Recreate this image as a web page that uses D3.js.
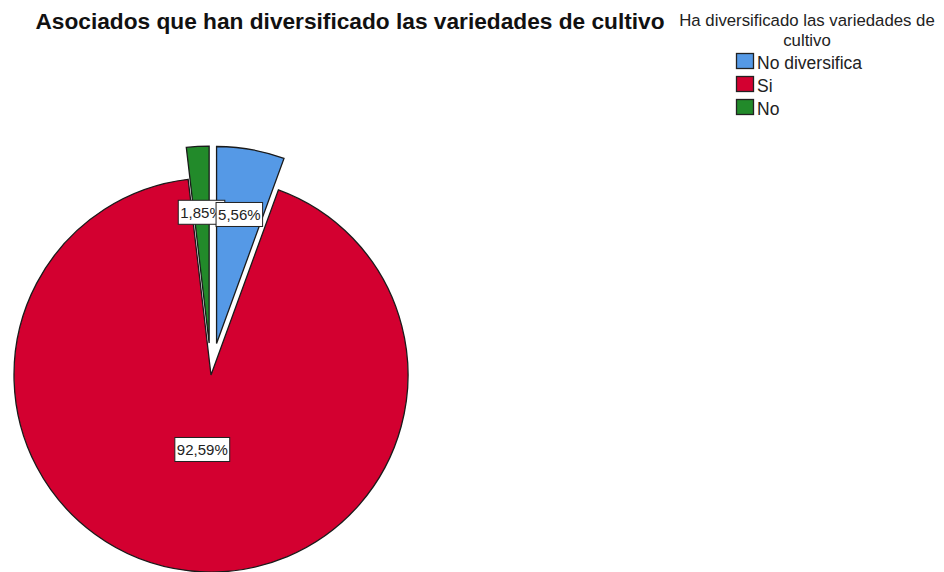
<!DOCTYPE html>
<html><head><meta charset="utf-8">
<script src="https://cdn.jsdelivr.net/npm/d3@7"></script>
<style>body{margin:0;background:#fff}svg{display:block}</style>
</head><body>
<svg id="c" width="944" height="572"></svg>
<script>
const categories = ["No diversifica", "Si", "No"];
const values = [5.56, 92.59, 1.85];
const labels = ["5,56%", "92,59%", "1,85%"];
const exploded = [true, false, true];
const colors = ["#5599E6", "#D30030", "#228A2A"];
const title = "Asociados que han diversificado las variedades de cultivo";
const legendTitle = ["Ha diversificado las variedades de", "cultivo"];

const svg = d3.select("#c");
const cx = 211, cy = 375, R = 197, explode = 32;
const font = "Liberation Sans, Arial, sans-serif";

const pie = d3.pie().sort(null).value(d => d)(values);
const arc = d3.arc().innerRadius(0).outerRadius(R);

const g = svg.append("g").attr("transform", `translate(${cx},${cy})`);
function offset(d, i) {
  if (!exploded[i]) return [0, 0];
  const a = (d.startAngle + d.endAngle) / 2;
  return [Math.sin(a) * explode, -Math.cos(a) * explode];
}
g.selectAll("path").data(pie).join("path")
  .attr("d", arc)
  .attr("transform", (d, i) => { const o = offset(d, i); return `translate(${o[0]},${o[1]})`; })
  .attr("fill", (d, i) => colors[i])
  .attr("stroke", "#1a1a1a").attr("stroke-width", 1.3).attr("stroke-linejoin", "miter");

const order = [2, 0, 1];
order.forEach(i => {
  const d = pie[i];
  const a = (d.startAngle + d.endAngle) / 2;
  const lr = exploded[i] ? 163 : 75;
  const x = Math.sin(a) * lr, y = -Math.cos(a) * lr;
  const lg = g.append("g").attr("transform", `translate(${x},${y})`);
  const t = lg.append("text").text(labels[i])
    .attr("text-anchor", "middle").attr("dy", "0.36em")
    .attr("font-family", font).attr("font-size", 15).attr("fill", "#222");
  const bb = t.node().getBBox();
  lg.insert("rect", "text").attr("x", bb.x - 2).attr("y", -12).attr("width", bb.width + 4).attr("height", 24)
    .attr("fill", "#fff").attr("stroke", "#222").attr("stroke-width", 1);
});

svg.append("text").text(title)
  .attr("x", 350).attr("y", 29).attr("text-anchor", "middle")
  .attr("font-family", font).attr("font-weight", "bold")
  .attr("font-size", 22.7).attr("fill", "#111");

legendTitle.forEach((s, i) => svg.append("text").text(s)
  .attr("x", 807).attr("y", 26 + i * 19.5).attr("text-anchor", "middle")
  .attr("font-family", font).attr("font-size", 16.8).attr("fill", "#222"));

const leg = svg.append("g").attr("transform", "translate(736,53)");
categories.forEach((c, i) => {
  const row = leg.append("g").attr("transform", `translate(0,${i * 23})`);
  row.append("rect").attr("x", 0.5).attr("y", 0.5).attr("width", 17).attr("height", 15)
    .attr("fill", colors[i]).attr("stroke", "#222").attr("stroke-width", 1.3);
  row.append("text").text(c).attr("x", 21).attr("y", 16)
    .attr("font-family", font).attr("font-size", 17.5).attr("fill", "#222");
});
</script>
</body></html>
